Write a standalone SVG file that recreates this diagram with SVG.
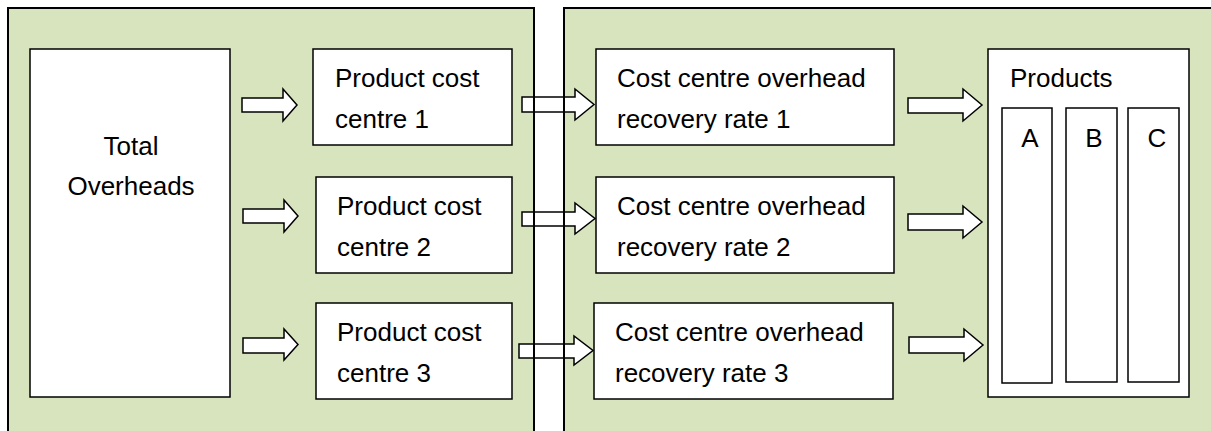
<svg xmlns="http://www.w3.org/2000/svg" width="1211" height="431" viewBox="0 0 1211 431">
<style>
.panel{fill:#d7e4bd;stroke:none}
.panel-line{fill:none;stroke:#000;stroke-width:2}
.box{fill:#fff;stroke:#000;stroke-width:1.5}
.arrow{fill:#fff;stroke:#000;stroke-width:1.5;stroke-linejoin:miter}
text{font-family:"Liberation Sans",Arial,sans-serif;font-size:26px;fill:#000}
</style>
<rect x="0" y="0" width="1211" height="431" fill="#fff"/>
<rect class="panel" x="8" y="8" width="526" height="440"/>
<rect class="panel" x="564" y="8" width="700" height="440"/>

<g id="total-overheads">
<rect class="box" x="30" y="49" width="200" height="348"/>
<text x="131" y="155" text-anchor="middle">Total</text>
<text x="131" y="195" text-anchor="middle">Overheads</text>
</g>

<g id="pcc1">
<rect class="box" x="313" y="49" width="199" height="96"/>
<text x="335" y="87">Product cost</text>
<text x="335" y="128">centre 1</text>
</g>
<g id="pcc2">
<rect class="box" x="316" y="177" width="196" height="96"/>
<text x="337" y="215">Product cost</text>
<text x="337" y="256">centre 2</text>
</g>
<g id="pcc3">
<rect class="box" x="316" y="303" width="196" height="96"/>
<text x="337" y="341">Product cost</text>
<text x="337" y="382">centre 3</text>
</g>

<g id="rate1">
<rect class="box" x="596" y="49" width="298" height="96"/>
<text x="617" y="87">Cost centre overhead</text>
<text x="617" y="128">recovery rate 1</text>
</g>
<g id="rate2">
<rect class="box" x="596" y="177" width="298" height="96"/>
<text x="617" y="215">Cost centre overhead</text>
<text x="617" y="256">recovery rate 2</text>
</g>
<g id="rate3">
<rect class="box" x="594" y="303" width="299" height="96"/>
<text x="615" y="341">Cost centre overhead</text>
<text x="615" y="382">recovery rate 3</text>
</g>

<g id="products">
<rect class="box" x="988" y="49" width="201" height="348"/>
<text x="1010" y="87">Products</text>
<g id="product-a">
<rect class="box" x="1002" y="108" width="50" height="275"/>
<text x="1030" y="147" text-anchor="middle">A</text>
</g>
<g id="product-b">
<rect class="box" x="1066" y="108" width="51" height="274"/>
<text x="1094" y="147" text-anchor="middle">B</text>
</g>
<g id="product-c">
<rect class="box" x="1128" y="108" width="51" height="274"/>
<text x="1157" y="147" text-anchor="middle">C</text>
</g>
</g>

<g id="connectors">
<polygon class="arrow" points="242,98 283,98 283,89 297,105 283,121 283,112 242,112"/>
<polygon class="arrow" points="243,209 284,209 284,200 298,216 284,232 284,223 243,223"/>
<polygon class="arrow" points="243,338 284,338 284,329 298,344.5 284,360 284,353 243,353"/>
<polygon class="arrow" points="522,97 575,97 575,89 594,104.5 575,120 575,112 522,112"/>
<polygon class="arrow" points="522,212 575,212 575,203 595,218.5 575,234 575,226 522,226"/>
<polygon class="arrow" points="519,344 574,344 574,336 593,350.5 574,365 574,358 519,358"/>
<polygon class="arrow" points="908,98 963,98 963,89 982,105 963,121 963,113 908,113"/>
<polygon class="arrow" points="908,214 963,214 963,206 982,222 963,238 963,230 908,230"/>
<polygon class="arrow" points="909,337 964,337 964,329 983,345 964,361 964,353 909,353"/>
</g>

<rect class="panel-line" x="8" y="8" width="526" height="440"/>
<rect class="panel-line" x="564" y="8" width="700" height="440"/>
</svg>
